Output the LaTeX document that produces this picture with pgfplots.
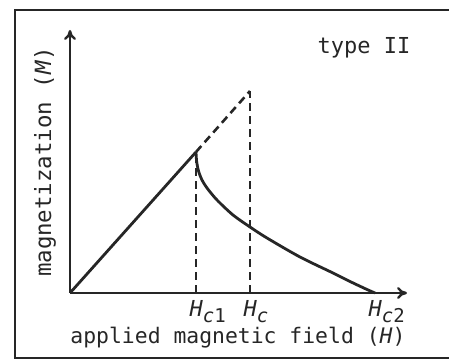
\documentclass[border=0pt]{standalone}
\usepackage{fontspec}
\setmainfont{DejaVu Sans Mono}
\usepackage{pgfplots}
\pgfplotsset{compat=1.18}
\usetikzlibrary{arrows.meta}
\definecolor{ink}{HTML}{262626}
\newcommand{\Hsub}[1]{\textit{H}\raisebox{-0.5ex}{\fontsize{9.5}{10}\selectfont#1}}
\begin{document}
\begin{tikzpicture}
\begin{axis}[
  x=0.5pt, y=0.5pt,
  xmin=0, xmax=337, ymin=0, ymax=263,
  axis lines=left,
  axis line style={ink, line width=1.2pt, -{To[length=5pt,width=6pt]}},
  xtick={126,180,305},
  xticklabels={\Hsub{\textit{c}1}, \Hsub{\textit{c}}, \Hsub{\textit{c}2}},
  ytick=\empty,
  major tick length=0pt,
  xticklabel style={anchor=north west, inner sep=0pt, xshift=-3.4pt, yshift=-3.4pt,
    font=\fontsize{11}{12}\selectfont, text=ink},
  clip=false,
]
  % frame around the figure
  \draw[ink, line width=1.3pt] (axis cs:381,283) -- (axis cs:-55,283) -- (axis cs:-55,-65) -- (axis cs:381,-65);

  % Meissner state: linear rise up to Hc1
  \addplot[ink, line width=1.4pt] coordinates {(0,0) (126,141)};
  % extrapolation of the linear branch up to Hc
  \addplot[ink, line width=1.3pt, dash pattern=on 4pt off 2.5pt] coordinates {(126,141) (180,202)};
  % mixed state: decay from Hc1 to Hc2
  \addplot[ink, line width=1.4pt, smooth] coordinates {
    (126,141) (126.6,132) (128.5,122) (132,113) (137,105) (147,93) (163,78)
    (180,66) (197,55) (230,36) (263,20) (280,11.5) (297,3.5) (305,0)};
  % guide lines at the critical fields
  \addplot[ink, line width=1.3pt, dash pattern=on 4pt off 2.5pt] coordinates {(126,0) (126,136)};
  \addplot[ink, line width=1.3pt, dash pattern=on 4pt off 2.5pt] coordinates {(180,0) (180,202)};

  \node[text=ink, font=\fontsize{10.7}{12}\selectfont] at (axis cs:168,-45) {applied magnetic field (\textit{H})};
  \node[text=ink, font=\fontsize{11.2}{12}\selectfont, rotate=90] at (axis cs:-25,131) {magnetization (\textit{M})};
  \node[text=ink, font=\fontsize{11}{12}\selectfont] at (axis cs:294,245) {type II};

  \coordinate (bbA) at (axis cs:-70,-69);
  \coordinate (bbB) at (axis cs:379,293);
\end{axis}
\pgfresetboundingbox
\path[use as bounding box] (bbA) rectangle (bbB);
\end{tikzpicture}
\end{document}
